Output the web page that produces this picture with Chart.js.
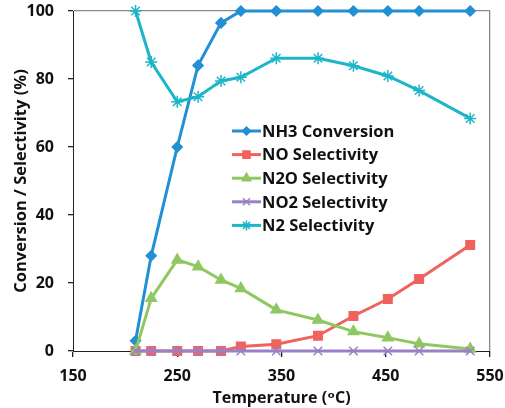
<!DOCTYPE html>
<html>
<head>
<meta charset="utf-8">
<script src="https://cdn.jsdelivr.net/npm/chart.js@4/dist/chart.umd.min.js"></script>
<style>
  html, body { margin: 0; padding: 0; background: #fff; }
  #wrap { width: 505px; height: 408px; }
</style>
</head>
<body>
<div id="wrap"><canvas id="c" width="505" height="408"></canvas></div>
<script>
// temperatures (oC)
const temps = [210, 225, 250, 270, 292, 311, 345, 385, 419, 452, 482, 531];

const nh3Conversion = [3, 28, 60, 84, 96.5, 100, 100, 100, 100, 100, 100, 100];
const noSelectivity = [0, 0, 0, 0, 0, 1.3, 2, 4.5, 10.3, 15.3, 21.2, 31.2];
const n2oSelectivity = [0, 15.5, 26.8, 24.8, 20.9, 18.4, 12.1, 9.1, 5.7, 3.9, 2.1, 0.6];
const no2Selectivity = [0, 0, 0, 0, 0, 0, 0, 0, 0, 0, 0, 0];
const n2Selectivity = [100, 85, 73.3, 74.8, 79.4, 80.5, 86.1, 86.1, 83.9, 80.9, 76.6, 68.4];

const seriesNames = ['NH3 Conversion', 'NO Selectivity', 'N2O Selectivity', 'NO2 Selectivity', 'N2 Selectivity'];

const xTicks = [150, 250, 350, 450, 550];
const yTicks = [0, 20, 40, 60, 80, 100];

const FONT = '"Open Sans", "DejaVu Sans", sans-serif';

function pts(vals) {
  return vals.map((v, i) => ({ x: temps[i], y: v }));
}

function ds(label, vals, color, style, radius, order) {
  return {
    label: label,
    data: pts(vals),
    borderColor: color,
    backgroundColor: color,
    borderWidth: 3,
    pointStyle: style,
    pointRadius: radius,
    pointBorderColor: color,
    pointBackgroundColor: color,
    pointBorderWidth: 1.5,
    tension: 0,
    clip: false,
    order: order
  };
}

const datasets = [
  ds(seriesNames[0], nh3Conversion, '#2290d2', 'rectRot', 5, 4),
  ds(seriesNames[1], noSelectivity, '#f0625c', 'rect', 6, 3),
  ds(seriesNames[2], n2oSelectivity, '#8fc862', 'triangle', 6, 2),
  ds(seriesNames[3], no2Selectivity, '#9a80c6', 'crossRot', 6, 1),
  ds(seriesNames[4], n2Selectivity, '#1db6c8', 'star', 6, 0)
];

// legend drawn inside the plot area
const innerLegend = {
  id: 'innerLegend',
  afterDraw(chart) {
    const ctx = chart.ctx;
    const x0 = 232, y0 = 131, step = 23.6;
    ctx.save();
    datasets.forEach((d, i) => {
      const y = y0 + i * step;
      ctx.strokeStyle = d.borderColor;
      ctx.fillStyle = d.borderColor;
      ctx.lineWidth = 3;
      ctx.beginPath();
      ctx.moveTo(x0, y);
      ctx.lineTo(x0 + 29, y);
      ctx.stroke();
      ctx.lineWidth = 1.5;
      if (Chart.helpers && Chart.helpers.drawPoint) {
        Chart.helpers.drawPoint(ctx, { pointStyle: d.pointStyle, radius: d.pointRadius - 1, rotation: 0, borderWidth: 1.5 }, x0 + 14.5, y);
      }
      ctx.fillStyle = '#111';
      ctx.font = 'bold 16.5px ' + FONT;
      ctx.textBaseline = 'middle';
      ctx.textAlign = 'left';
      ctx.fillText(d.label, x0 + 30, y + 1);
    });
    ctx.restore();
  }
};

new Chart(document.getElementById('c'), {
  type: 'line',
  data: { datasets: datasets },
  plugins: [innerLegend],
  options: {
    responsive: false,
    animation: false,
    devicePixelRatio: 1,
    layout: { padding: { top: 11, right: 15, left: 0, bottom: 0 } },
    plugins: {
      legend: { display: false },
      tooltip: { enabled: false }
    },
    scales: {
      x: {
        type: 'linear',
        min: 150,
        max: 550,
        afterBuildTicks: s => { s.ticks = xTicks.map(v => ({ value: v })); },
        afterFit: s => { s.height = 57; s.paddingLeft = 0; s.paddingRight = 0; },
        border: { color: '#222', width: 1 },
        grid: {
          color: c => (c.tick && c.tick.value === 550 ? '#8a8a8a' : 'rgba(0,0,0,0)'),
          tickColor: '#222',
          tickLength: 6,
          lineWidth: 1.3
        },
        ticks: {
          color: '#111',
          font: { family: FONT, size: 16, weight: 'bold' },
          padding: 10,
          maxRotation: 0
        },
        title: {
          display: true,
          text: 'Temperature (ᵒC)',
          color: '#111',
          font: { family: FONT, size: 16, weight: 'bold' },
          padding: { top: -12, bottom: 0 }
        }
      },
      y: {
        min: 0,
        max: 100,
        afterBuildTicks: s => { s.ticks = yTicks.map(v => ({ value: v })); },
        afterFit: s => { s.width = 73; s.paddingTop = 0; s.paddingBottom = 0; },
        border: { color: '#222', width: 1 },
        grid: {
          color: c => (c.tick && c.tick.value === 100 ? '#8a8a8a' : 'rgba(0,0,0,0)'),
          tickColor: '#222',
          tickLength: 5,
          lineWidth: 1.3
        },
        ticks: {
          color: '#111',
          font: { family: FONT, size: 16, weight: 'bold' },
          padding: 14
        },
        title: {
          display: true,
          text: 'Conversion / Selectivity (%)',
          color: '#111',
          font: { family: FONT, size: 16.5, weight: 'bold' },
          padding: { top: 11, bottom: 4 }
        }
      }
    }
  }
});
</script>
</body>
</html>
